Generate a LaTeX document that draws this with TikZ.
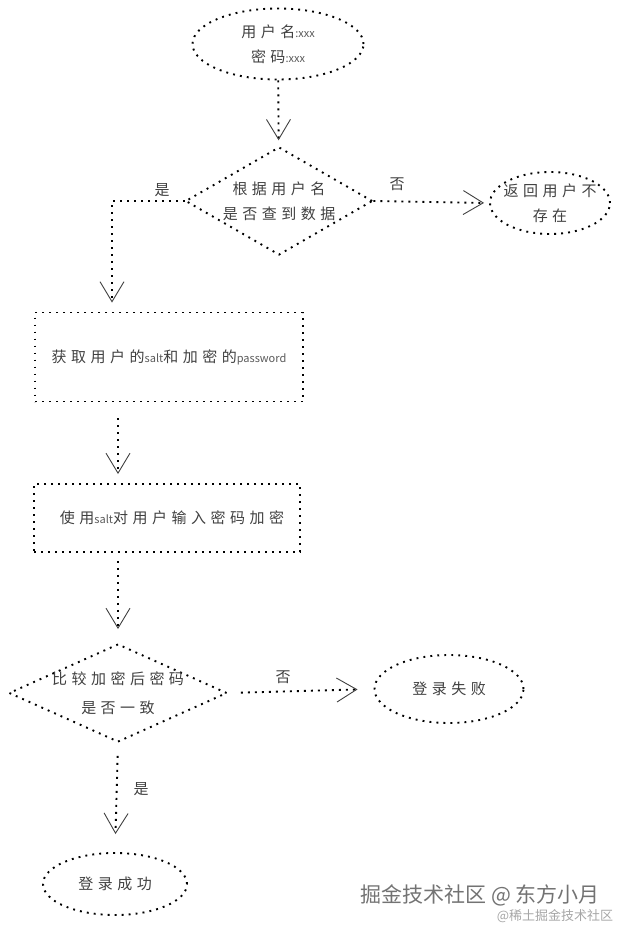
\documentclass[tikz,border=0pt]{standalone}
\usepackage{fontspec}
\setmainfont{Noto Sans CJK SC}
\newfontfamily\hand[LetterSpace=30]{Noto Sans CJK SC}
\newfontfamily\plain{Noto Sans CJK SC}
\usepackage{tikz}
\usetikzlibrary{positioning,shapes,arrows.meta}
\newcommand{\lat}[1]{{\plain\fontsize{11}{13}\selectfont\color{black!65}#1}}

\begin{document}
\begin{tikzpicture}[x=1pt,y=-1pt,
        dotline/.style={line width=1.9pt,dash pattern=on 1.9pt off 5.1pt},
        txt/.style={font=\hand\fontsize{15}{25}\selectfont,text=black!75,align=center},
        terminal/.style={ellipse,draw,dotline,txt,inner sep=0pt},
        process/.style={rectangle,draw,dotline,txt},
        decision/.style={diamond,draw,dotline,txt,inner sep=-3pt},
        flow/.style={dotline,-{Straight Barb[length=20pt,width=24pt,line width=0.9pt,color=black!75]}},
        tag/.style={font=\fontsize{15}{18}\selectfont,text=black!75}]
        \useasboundingbox (0,0) rectangle (619,927);
        \node[terminal,minimum width=171pt,minimum height=71pt] (user) at (278,44) {用户名\lat{:xxx}\\密码\lat{:xxx}};
        \node[decision,aspect=1.73,minimum width=187pt,minimum height=108pt] (check) at (279,201) {根据用户名\\是否查到数据};
        \node[terminal,inner xsep=-8pt,minimum width=120pt,minimum height=62pt] (back) at (550,203) {返回用户不\\存在};
        \node[process,minimum width=268pt,minimum height=89pt] (getsalt) at (169,357) {获取用户的\lat{salt}和加密的\lat{password}};
        \node[process,minimum width=266pt,minimum height=68pt] (encrypt) at (167,518) {\hspace{10pt}使用\lat{salt}对用户输入密码加密};
        \node[decision,aspect=2.22,inner sep=-4pt,minimum width=218pt,minimum height=98pt,font=\hand\fontsize{15}{29}\selectfont] (compare) at (118,693) {比较加密后密码\\是否一致};
        \node[terminal,minimum width=149pt,minimum height=68pt] (fail) at (449,689) {登录失败};
        \node[terminal,minimum width=144pt,minimum height=62pt] (success) at (115,884) {登录成功};
        \draw[flow,shorten >=6pt] (user) -- (check);
        \draw[flow,shorten >=9pt] (check.west) -| ([xshift=-57pt]getsalt.north);
        \draw[flow,shorten >=5pt] (check.east) -- (back.west);
        \draw[flow,shorten <=16pt,shorten >=9pt] (getsalt.south -| compare) -- (encrypt.north -| compare);
        \draw[flow,shorten <=8pt,shorten >=14pt] (encrypt.south -| compare) -- (compare.north);
        \draw[flow,shorten <=13pt,shorten >=16pt] (compare.east) -- (fail.west);
        \draw[flow,shorten <=13pt,shorten >=18pt] (compare.south) -- (success.north);
        \node[tag] (yes1) at (162,190) {是};
        \node[tag] (no1) at (397,184) {否};
        \node[tag] (no2) at (283,677) {否};
        \node[tag] (yes2) at (141,789) {是};
        \node[font=\fontsize{21}{24}\selectfont,text=black!55] (mark) at (480,895) {掘金技术社区 @ 东方小月};
        \node[font=\fontsize{13}{15}\selectfont,text=black!35] (site) at (555,916) {@稀土掘金技术社区};
\end{tikzpicture}
\end{document}
